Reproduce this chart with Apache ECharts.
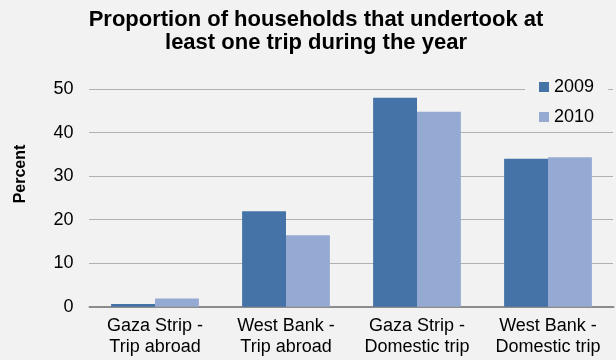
<!DOCTYPE html>
<html>
<head>
<meta charset="utf-8">
<script src="https://cdn.jsdelivr.net/npm/echarts@6/dist/echarts.min.js"></script>
<style>
  html, body { margin: 0; padding: 0; background: #f2f2f2; }
  #chart { width: 616px; height: 360px; }
</style>
</head>
<body>
<div id="chart"></div>
<script>
// Share of households with at least one trip, by region and trip type
const categories = [
  'Gaza Strip -\nTrip abroad',
  'West Bank -\nTrip abroad',
  'Gaza Strip -\nDomestic trip',
  'West Bank -\nDomestic trip'
];
const seriesNames = ['2009', '2010'];
const values2009 = [0.6, 21.9, 48.0, 34.0];
const values2010 = [1.9, 16.4, 44.8, 34.3];
const yTicks = { min: 0, max: 50, interval: 10 };

const FONT = '"Liberation Sans", Arial, sans-serif';
const chart = echarts.init(document.getElementById('chart'), null, { renderer: 'canvas' });

chart.setOption({
  backgroundColor: '#f2f2f2',
  animation: false,
  textStyle: { fontFamily: FONT },
  graphic: [
    {
      type: 'text',
      x: 316,
      y: 9,
      style: {
        text: 'Proportion of households that undertook at\nleast one trip during the year',
        font: 'bold 22px ' + FONT,
        lineHeight: 22.5,
        fill: '#000',
        textAlign: 'center',
        textVerticalAlign: 'top'
      }
    },
    {
      type: 'text',
      x: 21,
      y: 174,
      rotation: Math.PI / 2,
      style: {
        text: 'Percent',
        font: 'bold 16px ' + FONT,
        fill: '#000',
        textAlign: 'center',
        textVerticalAlign: 'middle'
      }
    }
  ],
  legend: {
    data: seriesNames,
    orient: 'vertical',
    left: 525,
    top: 78,
    padding: [0, 14, 0, 14],
    backgroundColor: '#f2f2f2',
    itemWidth: 10,
    itemHeight: 10,
    itemGap: 12,
    icon: 'rect',
    textStyle: { fontSize: 18, lineHeight: 18, color: '#000', fontFamily: FONT }
  },
  grid: { left: 89.5, right: 2.5, top: 89, bottom: 53.3, containLabel: false },
  xAxis: {
    type: 'category',
    data: categories,
    axisLine: { lineStyle: { color: '#8c8c8c', width: 2 } },
    axisTick: { show: false },
    axisLabel: { fontSize: 18, lineHeight: 21, color: '#000', margin: 9, fontFamily: FONT, interval: 0 }
  },
  yAxis: {
    type: 'value',
    min: yTicks.min,
    max: yTicks.max,
    interval: yTicks.interval,
    axisLine: { show: false },
    axisTick: { show: false },
    axisLabel: { fontSize: 18, color: '#000', margin: 16, fontFamily: FONT },
    splitLine: { lineStyle: { color: '#707070', width: 1, type: [1, 1] } }
  },
  series: [
    {
      name: seriesNames[0],
      type: 'bar',
      data: values2009,
      barGap: '0%',
      barCategoryGap: '33%',
      itemStyle: { color: '#4573a7' }
    },
    {
      name: seriesNames[1],
      type: 'bar',
      data: values2010,
      itemStyle: { color: '#95aad2' }
    }
  ]
});
</script>
</body>
</html>
